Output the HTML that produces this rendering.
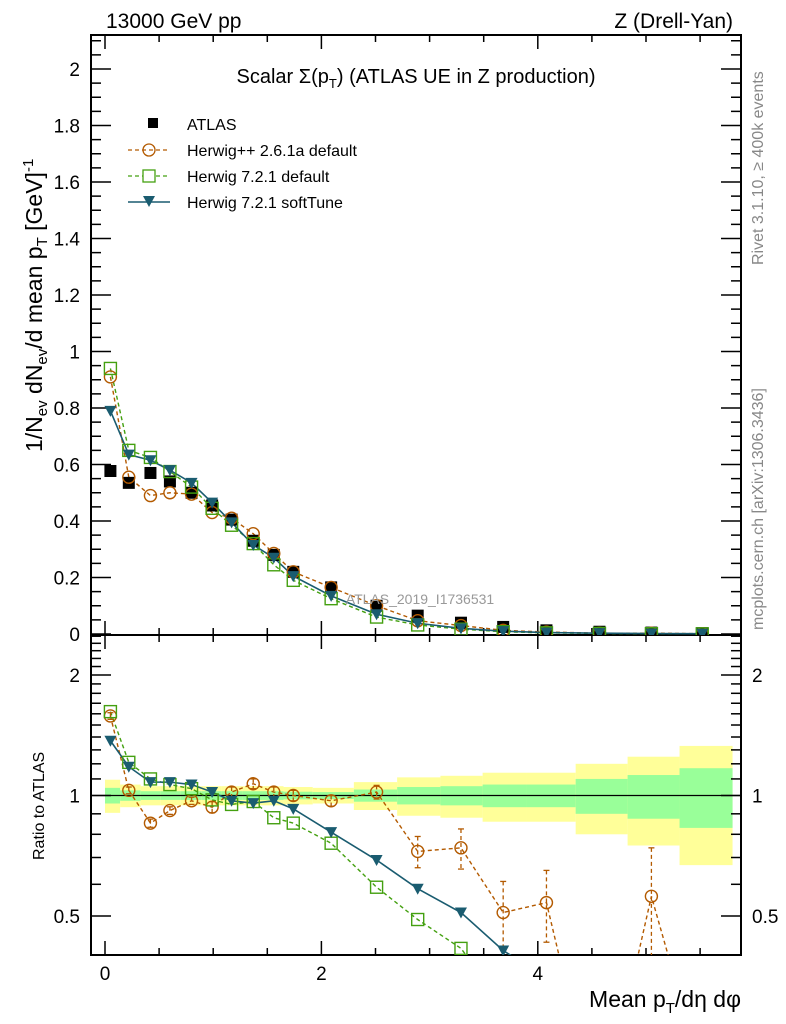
<!DOCTYPE html>
<html><head><meta charset="utf-8"><style>
html,body{margin:0;padding:0;background:#fff;width:786px;height:1024px;overflow:hidden;}
svg{display:block;font-family:"Liberation Sans",Arial,sans-serif;}
</style></head><body>
<svg id="chart" width="786" height="1024" viewBox="0 0 786 1024" xmlns="http://www.w3.org/2000/svg">
<defs>
<clipPath id="clipMain"><rect x="91" y="35" width="650" height="600"/></clipPath>
<clipPath id="clipRatio"><rect x="91" y="635" width="650" height="320"/></clipPath>
</defs>
<g id="bands" clip-path="url(#clipRatio)"></g>
<g id="axes"></g>
<g id="series-main" clip-path="url(#clipMain)"></g>
<g id="series-ratio" clip-path="url(#clipRatio)"></g>
<text x="106" y="28" font-size="21">13000 GeV pp</text>
<text x="733" y="28" font-size="21" text-anchor="end">Z (Drell-Yan)</text>
<text x="416" y="83" font-size="20" text-anchor="middle">Scalar Σ(p<tspan font-size="13" dy="5">T</tspan><tspan dy="-5">) (ATLAS UE in Z production)</tspan></text>
<text x="420" y="604" font-size="14" fill="#999" text-anchor="middle">ATLAS_2019_I1736531</text>
<text transform="translate(763,265) rotate(-90)" font-size="16" fill="#888">Rivet 3.1.10, ≥ 400k events</text>
<text transform="translate(763,630) rotate(-90)" font-size="16" fill="#888">mcplots.cern.ch [arXiv:1306.3436]</text>
<text transform="translate(42,452) rotate(-90)" font-size="23">1/N<tspan font-size="15" dy="5">ev</tspan><tspan dy="-5"> dN</tspan><tspan font-size="15" dy="5">ev</tspan><tspan dy="-5">/d mean p</tspan><tspan font-size="15" dy="5">T</tspan><tspan dy="-5">  [GeV]</tspan><tspan font-size="15" dy="-9">-1</tspan></text>
<text transform="translate(44,860) rotate(-90)" font-size="16">Ratio to ATLAS</text>
<text x="741" y="1007" font-size="23" text-anchor="end">Mean p<tspan font-size="15" dy="6">T</tspan><tspan dy="-6">/dη dφ</tspan></text>
<g id="legend">
<rect x="148" y="118" width="10" height="10" fill="#000"/>
<text x="187" y="130" font-size="16">ATLAS</text>
<line x1="128" y1="150" x2="170" y2="150" stroke="#b35a00" stroke-width="1.3" stroke-dasharray="4,3"/>
<circle cx="149" cy="150" r="6" fill="none" stroke="#b35a00" stroke-width="1.3"/>
<text x="187" y="156" font-size="16">Herwig++ 2.6.1a default</text>
<line x1="128" y1="176" x2="170" y2="176" stroke="#44a010" stroke-width="1.3" stroke-dasharray="4,3"/>
<rect x="143" y="170" width="12" height="12" fill="#fff" stroke="#44a010" stroke-width="1.3"/>
<text x="187" y="182" font-size="16">Herwig 7.2.1 default</text>
<line x1="128" y1="202" x2="170" y2="202" stroke="#1a5c70" stroke-width="1.5"/>
<path d="M143,196 L155,196 L149,207 Z" fill="#1a5c70"/>
<text x="187" y="208" font-size="16">Herwig 7.2.1 softTune</text>
</g>
</svg>
<script>
const binCenters=[0.05,0.22,0.42,0.60,0.80,0.99,1.17,1.37,1.56,1.74,2.09,2.51,2.89,3.29,3.68,4.08,4.57,5.05,5.52];
const binEdges=[0,0.14,0.33,0.51,0.70,0.89,1.08,1.27,1.46,1.65,1.92,2.30,2.70,3.10,3.49,3.90,4.35,4.83,5.31,5.80];
const atlasVals=[0.577,0.535,0.57,0.54,0.50,0.455,0.405,0.33,0.28,0.22,0.165,0.10,0.065,0.04,0.025,0.013,0.008,0.005,0.003];
const herwigppVals=[0.91,0.555,0.49,0.50,0.495,0.43,0.41,0.355,0.285,0.22,0.165,0.10,0.047,0.03,0.013,0.007,0.003,0.003,0.001];
const herwig7Vals=[0.94,0.65,0.625,0.575,0.52,0.445,0.385,0.32,0.245,0.19,0.125,0.06,0.032,0.017,0.008,0.004,0.002,0.001,0.0005];
const softTuneVals=[0.79,0.635,0.615,0.58,0.535,0.465,0.395,0.315,0.27,0.205,0.135,0.07,0.038,0.02,0.01,0.005,0.003,0.0015,0.001];
const herwigppRatio=[1.58,1.03,0.853,0.917,0.97,0.935,1.02,1.07,1.02,1.0,0.97,1.02,0.725,0.74,0.51,0.54,0.15,0.56,0.2];
const herwigppRatioErr=[0.03,0.02,0.02,0.02,0.02,0.03,0.03,0.03,0.03,0.03,0.03,0.04,0.065,0.085,0.1,0.11,0.1,0.18,0.1];
const herwig7Ratio=[1.62,1.21,1.10,1.065,1.04,0.975,0.95,0.966,0.88,0.853,0.76,0.59,0.49,0.415,0.3,0.25,0.2,0.15,0.1];
const softTuneRatio=[1.37,1.18,1.08,1.08,1.065,1.02,0.97,0.957,0.97,0.926,0.81,0.69,0.585,0.51,0.41,0.35,0.3,0.25,0.2];
const bandTot=[0.095,0.065,0.055,0.055,0.055,0.055,0.055,0.055,0.055,0.05,0.045,0.08,0.11,0.12,0.14,0.14,0.2,0.25,0.33];
const bandStat=[0.045,0.03,0.025,0.025,0.025,0.025,0.025,0.025,0.025,0.022,0.02,0.035,0.05,0.055,0.065,0.065,0.1,0.125,0.17];
const mainYTicks=[0,0.2,0.4,0.6,0.8,1,1.2,1.4,1.6,1.8,2];
const xTicks=[0,2,4];
const ratioTicks=[0.5,1,2];

const NS="http://www.w3.org/2000/svg";
const X=v=>105+v*108.2;
const Y=v=>634-v*282.5;
const R=v=>795.5-Math.log2(v)*120.5;
function mk(tag,attrs,parent){const e=document.createElementNS(NS,tag);for(const k in attrs)e.setAttribute(k,attrs[k]);parent.appendChild(e);return e;}
const axes=document.getElementById('axes');
const bands=document.getElementById('bands');
const sm=document.getElementById('series-main');
const sr=document.getElementById('series-ratio');

for(let i=0;i<binCenters.length;i++){
  const x0=X(binEdges[i]),x1=X(binEdges[i+1]);
  const y=mk('rect',{x:x0,y:R(1+bandTot[i]),width:x1-x0,height:R(1-bandTot[i])-R(1+bandTot[i]),fill:'#ffff99'},bands);
  
  
  const g=mk('rect',{x:x0,y:R(1+bandStat[i]),width:x1-x0,height:R(1-bandStat[i])-R(1+bandStat[i]),fill:'#99ff99'},bands);
  
  
}
const ref=mk('line',{x1:91,x2:741,y1:R(1),y2:R(1),stroke:'#000','stroke-width':1.3},bands);



const f1=mk('rect',{x:91,y:35,width:650,height:600,fill:'none',stroke:'#000','stroke-width':2},axes);


const f2=mk('rect',{x:91,y:635,width:650,height:320,fill:'none',stroke:'#000','stroke-width':2},axes);



function tick(x1,y1,x2,y2){mk('line',{x1,y1,x2,y2,stroke:'#000','stroke-width':1.5},axes);}
for(let v=0;v<=5.8;v+=0.5){
  const major=Math.abs(v-Math.round(v/2)*2)<1e-6;
  const L=major?14:7,x=X(v);
  tick(x,635,x,635-L);tick(x,35,x,35+L);tick(x,955,x,955-L);tick(x,635,x,635+L);
}
xTicks.forEach(v=>{const t=mk('text',{x:X(v),y:980,'font-size':19,'text-anchor':'middle'},axes);t.textContent=v;

});
for(let k=0;k<=42;k++){const v=k*0.05;const y=Y(v);if(y<35)break;const major=k%4===0;const L=major?20:10;tick(91,y,91+L,y);tick(741,y,741-L,y);}
mainYTicks.forEach(v=>{const t=mk('text',{x:80,y:Y(v)+7,'font-size':19,'text-anchor':'end'},axes);t.textContent=v;

});
for(let k=4;k<=25;k++){const v=k/10;const y=R(v);if(y<636||y>954)continue;const major=(k===5||k===10||k===20);const L=major?20:10;tick(91,y,91+L,y);tick(741,y,741-L,y);}
ratioTicks.forEach(v=>{
  const t=mk('text',{x:80,y:R(v)+7,'font-size':19,'text-anchor':'end'},axes);t.textContent=v;
  
  
  const t2=mk('text',{x:752,y:R(v)+7,'font-size':19},axes);t2.textContent=v;
  
  
});

function line(vals,yf,color,dash,parent,name){
  const pts=binCenters.map((c,i)=>X(c)+','+yf(vals[i])).join(' ');
  const p=mk('polyline',{points:pts,fill:'none',stroke:color,'stroke-width':dash?1.4:1.6},parent);
  if(dash)p.setAttribute('stroke-dasharray','4,3');
  
  
}
function circles(vals,yf,parent,name){binCenters.forEach((c,i)=>{const e=mk('circle',{cx:X(c),cy:yf(vals[i]),r:6,fill:'none',stroke:'#b35a00','stroke-width':1.4},parent);

});}
function squares(vals,yf,parent,name){binCenters.forEach((c,i)=>{const e=mk('rect',{x:X(c)-6,y:yf(vals[i])-6,width:12,height:12,fill:'none',stroke:'#44a010','stroke-width':1.4},parent);

});}
function tris(vals,yf,parent,name){binCenters.forEach((c,i)=>{const x=X(c),y=yf(vals[i]);const e=mk('path',{d:`M${x-6},${y-5} L${x+6},${y-5} L${x},${y+6} Z`,fill:'#1a5c70'},parent);

});}

line(herwigppVals,Y,'#b35a00',true,sm,'herwigpp-line');
line(herwig7Vals,Y,'#44a010',true,sm,'herwig7-line');
line(softTuneVals,Y,'#1a5c70',false,sm,'softtune-line');
binCenters.forEach((c,i)=>{const e=mk('rect',{x:X(c)-6,y:Y(atlasVals[i])-6,width:12,height:12,fill:'#000'},sm);

});
circles(herwigppVals,Y,sm,'herwigpp-point');
squares(herwig7Vals,Y,sm,'herwig7-point');
tris(softTuneVals,Y,sm,'softtune-point');

line(herwigppRatio,R,'#b35a00',true,sr,'herwigpp-ratio-line');
line(herwig7Ratio,R,'#44a010',true,sr,'herwig7-ratio-line');
line(softTuneRatio,R,'#1a5c70',false,sr,'softtune-ratio-line');
binCenters.forEach((c,i)=>{const x=X(c),e=herwigppRatioErr[i],v=herwigppRatio[i];
  const el=mk('line',{x1:x,x2:x,y1:R(v+e),y2:R(Math.max(v-e,0.05)),stroke:'#b35a00','stroke-width':1.3,'stroke-dasharray':'4,3'},sr);
  
  
  mk('line',{x1:x-3,x2:x+3,y1:R(v+e),y2:R(v+e),stroke:'#b35a00','stroke-width':1.3},sr);
  mk('line',{x1:x-3,x2:x+3,y1:R(Math.max(v-e,0.05)),y2:R(Math.max(v-e,0.05)),stroke:'#b35a00','stroke-width':1.3},sr);
});
circles(herwigppRatio,R,sr,'herwigpp-ratio-point');
squares(herwig7Ratio,R,sr,'herwig7-ratio-point');
tris(softTuneRatio,R,sr,'softtune-ratio-point');
</script>
</body></html>
